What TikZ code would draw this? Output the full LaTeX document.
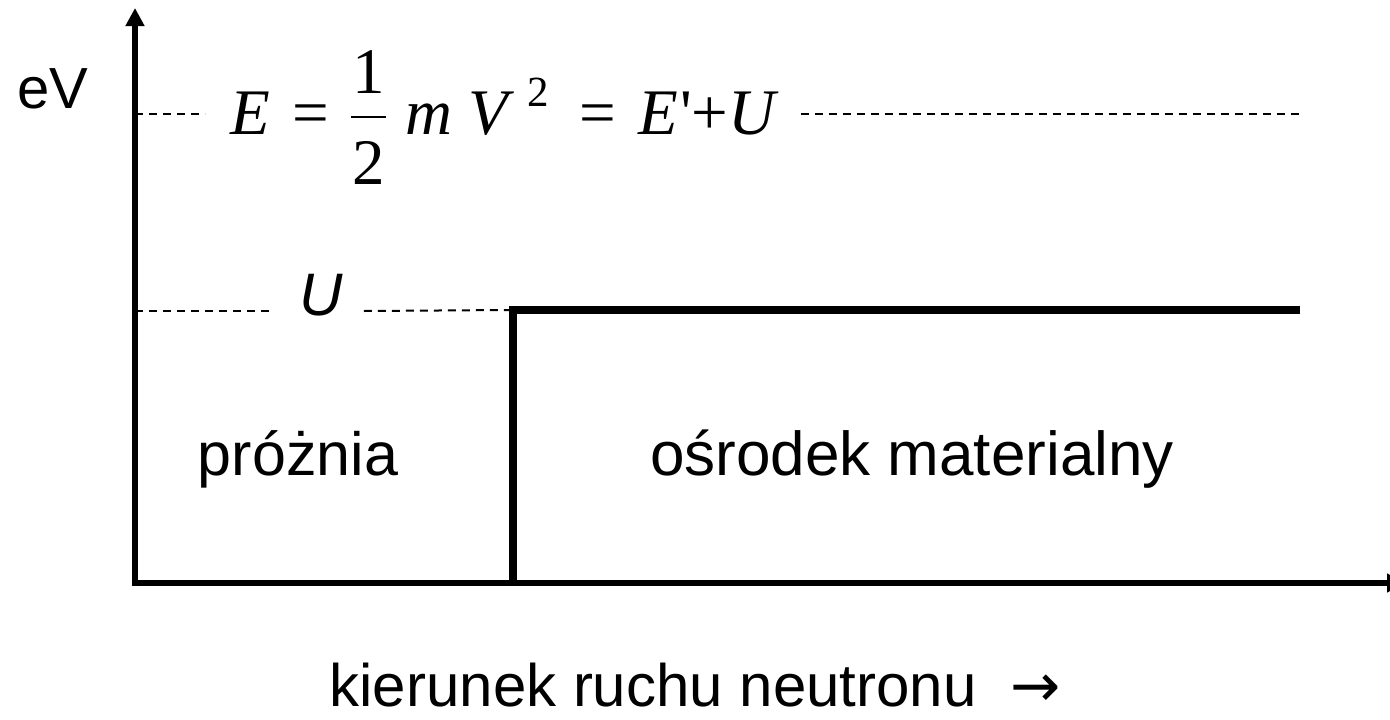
\documentclass[tikz,border=0pt]{standalone}
\usepackage{fontspec}
\setmainfont{Liberation Sans}
\newfontfamily\eqfont{Liberation Serif}
\newfontfamily\arrowfont{DejaVu Sans}
\usetikzlibrary{arrows.meta}
\newcommand{\halfstack}{%
  \rlap{\makebox[0.54em]{\raisebox{0.63em}{1}}}%
  \rlap{\makebox[0.54em]{\raisebox{-0.78em}{2}}}%
  \rule[0.25em]{0.54em}{0.034em}}
\tikzset{
  pot axis/.style={line width=6pt, line join=miter,
    {Triangle[length=18pt,width=18pt]}-{Triangle[length=18pt,width=18pt]}},
  pot step/.style={line width=7.5pt, line join=miter},
  pot level/.style={line width=2pt, dash pattern=on 8pt off 6pt},
  pot label/.style={font=\fontsize{61}{72}\selectfont, inner sep=0pt, anchor=base},
  pot eq/.style={font=\eqfont\fontsize{65}{76}\selectfont, inner xsep=25pt,
    inner ysep=0pt, anchor=base west}
}
\begin{document}
\begin{tikzpicture}[x=1pt,y=-1pt]
\useasboundingbox (0,0) rectangle (1390,720);
% axes
\coordinate (origin) at (135,583);
\coordinate (ytip) at (135,8);
\coordinate (xtip) at (1405,583);
\draw[pot axis] (ytip) -- (origin) -- (xtip);
% potential step
\coordinate (stepfoot) at (513,583);
\coordinate (stepcorner) at (513,310);
\coordinate (stepend) at (1300,310);
\draw[pot step] (stepfoot) -- (stepcorner) -- (stepend);
% energy levels
\coordinate (elevel) at (135,114);
\coordinate (eend) at (1300,114);
\coordinate (ulevel) at (135,311);
\node[pot eq] (energy) at (205,134) {{\itshape E}\hspace{0.35em}=\hspace{0.33em}\halfstack\hspace{0.3em}{\itshape m}\hspace{0.25em}{\itshape V}\hspace{0.3em}\raisebox{0.42em}{\fontsize{43}{43}\selectfont 2}\hspace{0.47em}=\hspace{0.34em}{\itshape E}\hspace{0.03em}\textquotesingle+{\itshape U}\hspace{0.05em}};
\draw[pot level] (elevel) -- (elevel -| energy.west);
\draw[pot level] (elevel -| energy.east) -- (eend);
\node[pot label, font=\fontsize{60}{72}\selectfont, inner xsep=21pt] (potU) at (321,315) {\itshape U};
\draw[pot level, shorten >=6pt] (ulevel) -- (ulevel -| potU.west);
\draw[pot level] (ulevel -| potU.east) -- (stepcorner);
% labels
\node[pot label, font=\fontsize{58}{70}\selectfont] (evunit) at (53,108) {eV};
\node[pot label] (vacuum) at (298,475) {próżnia};
\node[pot label, font=\fontsize{62}{74}\selectfont] (medium) at (912,475) {ośrodek materialny};
\node[pot label, font=\fontsize{60}{72}\selectfont] (direction) at (695,706) {kierunek ruchu neutronu\ \ {\arrowfont →}};
\end{tikzpicture}
\end{document}
